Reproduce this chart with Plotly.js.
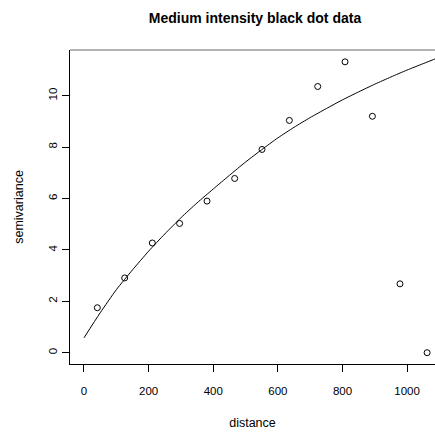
<!DOCTYPE html>
<html>
<head>
<meta charset="utf-8">
<script src="https://cdn.plot.ly/plotly-3.0.1.min.js"></script>
<style>html,body{margin:0;padding:0;background:#fff;}#chart{width:435px;height:434px;}</style>
</head>
<body>
<div id="chart"></div>
<script>
// Empirical semivariogram points
const distance = [41.3, 126, 211.5, 296, 380.8, 466.4, 551, 635.6, 723.4, 808, 892.6, 978, 1062];
const semivariance = [1.75, 2.91, 4.27, 5.03, 5.90, 6.78, 7.91, 9.04, 10.36, 11.32, 9.20, 2.68, 0];
// Fitted model curve
const modelDistance = [0, 50, 100, 150, 200, 250, 300, 350, 400, 450, 500, 550, 600, 650, 700, 750, 800, 850, 900, 950, 1000, 1050, 1100];
const modelSemivariance = [0.58, 1.55, 2.45, 3.22, 3.95, 4.62, 5.25, 5.83, 6.37, 6.90, 7.42, 7.90, 8.36, 8.77, 9.15, 9.50, 9.84, 10.15, 10.45, 10.73, 11.00, 11.25, 11.50];
const xTicks = [0, 200, 400, 600, 800, 1000];
const yTicks = [0, 2, 4, 6, 8, 10];

const font = "Liberation Sans, Arial, Helvetica, sans-serif";

const traces = [
  {
    x: modelDistance, y: modelSemivariance, type: 'scatter', mode: 'lines',
    line: {color: '#000', width: 1, shape: 'spline', smoothing: 0.6}, hoverinfo: 'skip', showlegend: false
  },
  {
    x: distance, y: semivariance, type: 'scatter', mode: 'markers',
    marker: {symbol: 'circle-open', size: 6, color: '#000', line: {width: 1, color: '#000'}},
    showlegend: false
  }
];

const layout = {
  width: 435, height: 434,
  margin: {l: 70, r: 0, t: 50, b: 70},
  paper_bgcolor: '#fff', plot_bgcolor: '#fff',
  font: {family: font, color: '#000', size: 11.5},
  title: {text: '<b>Medium intensity black dot data</b>', font: {family: font, size: 14, color: '#000'},
          x: 255/435, xref: 'container', xanchor: 'center', y: 1 - 18/434, yref: 'container', yanchor: 'middle'},
  xaxis: {
    range: [-43.3, 1086.4], tickvals: xTicks, ticktext: xTicks.map(String),
    showgrid: false, zeroline: false, showline: true, linecolor: '#000', linewidth: 1,
    ticks: 'outside', ticklen: 7, tickcolor: '#000', tickwidth: 1,
    ticklabelstandoff: 9,
    title: {text: 'distance', font: {size: 12.5}, standoff: 22}
  },
  yaxis: {
    range: [-0.44, 11.78], tickvals: yTicks, ticktext: yTicks.map(String), tickangle: -90,
    showgrid: false, zeroline: false, showline: true, linecolor: '#000', linewidth: 1,
    ticks: 'outside', ticklen: 7, tickcolor: '#000', tickwidth: 1,
    ticklabelstandoff: 0,
    title: {text: 'semivariance', font: {size: 12.5}, standoff: 21}
  },
  shapes: [
    {type: 'line', xref: 'paper', yref: 'paper', x0: 0, x1: 1.02, y0: 1, y1: 1, line: {color: '#666', width: 1}}
  ]
};

Plotly.newPlot('chart', traces, layout, {staticPlot: true, displayModeBar: false});
</script>
</body>
</html>
